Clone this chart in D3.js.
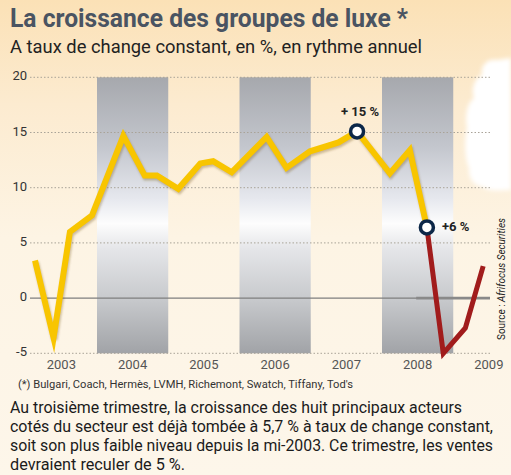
<!doctype html>
<html lang='fr'>
<head>
    <meta charset='utf-8'>
    <title>La croissance des groupes de luxe</title>
    <script src='https://cdn.jsdelivr.net/npm/d3@7'></script>
    <style>
        body { margin: 0; background: #fdf5e8; }
        svg { display: block; font-family: Roboto, 'Open Sans', sans-serif; }
        .grid { stroke: #a9a398; stroke-width: 1; stroke-dasharray: 1.5,2; }
        .ytick { font-size: 13px; fill: #333; text-anchor: end; }
        .year { font-size: 13px; fill: #555; text-anchor: middle; }
        .callout { font-size: 13px; font-weight: bold; fill: #222; }
        .para { font-size: 16px; fill: #1b1b1b; }
    </style>
</head>
<body>
<div id='chart'></div>
<script>
    // values (fractional years, % growth)
    const dates = [2003.13, 2003.39, 2003.62, 2003.93, 2004.37, 2004.67, 2004.84, 2005.14,
        2005.45, 2005.63, 2005.89, 2006.38, 2006.66, 2006.99, 2007.39, 2007.65,
        2008.11, 2008.39, 2008.63, 2008.86, 2009.17, 2009.42];
    const growth = [3.4, -3.6, 6.0, 7.5, 14.7, 11.1, 11.1, 9.9,
        12.2, 12.4, 11.4, 14.6, 11.8, 13.3, 14.1, 15.1,
        11.3, 13.4, 6.4, -5.0, -2.7, 2.9];
    const splitIndex = 18;           // from here on the line turns red
    const markerIdx = [15, 18];
    const markerLabels = ['+ 15 %', '+6 %'];
    const years = [2003, 2004, 2005, 2006, 2007, 2008, 2009];
    const shadedYears = [2004, 2006, 2008];
    const yTicks = [-5, 0, 5, 10, 15, 20];

    const title = 'La croissance des groupes de luxe *';
    const subtitle = 'A taux de change constant, en %, en rythme annuel';
    const footnote = "(*) Bulgari, Coach, Hermès, LVMH, Richemont, Swatch, Tiffany, Tod's";
    const paragraph = [
        'Au troisième trimestre, la croissance des huit principaux acteurs',
        'cotés du secteur est déjà tombée à 5,7 % à taux de change constant,',
        'soit son plus faible niveau depuis la mi-2003. Ce trimestre, les ventes',
        'devraient reculer de 5 %.'
    ];

    const W = 511, H = 475;
    const gridLeft = 30, gridRight = 490;

    const x = d3.scaleLinear().domain([2004, 2008]).range([97, 382]);
    const y = d3.scaleLinear().domain([-5, 20]).range([353.3, 77.3]);

    const svg = d3.select('#chart').append('svg')
        .attr('width', W)
        .attr('height', H);

    const defs = svg.append('defs');

    const bg = defs.append('linearGradient').attr('id', 'bg')
        .attr('x1', 0).attr('y1', 0).attr('x2', 0).attr('y2', 1);
    bg.append('stop').attr('offset', 0).attr('stop-color', '#fbe1b6');
    bg.append('stop').attr('offset', 0.22).attr('stop-color', '#fcebd0');
    bg.append('stop').attr('offset', 0.5).attr('stop-color', '#fdf4e4');
    bg.append('stop').attr('offset', 1).attr('stop-color', '#fdf6ea');

    const band = defs.append('linearGradient').attr('id', 'band')
        .attr('gradientUnits', 'userSpaceOnUse')
        .attr('x1', 0).attr('y1', y(20)).attr('x2', 0).attr('y2', y(-5));
    [[0, '#a6a8ad'], [0.25, '#c3c6cd'], [0.44, '#e6e8ee'], [0.53, '#fdfdfd'],
        [0.62, '#e5e6e9'], [0.8, '#c8cacd'], [1, '#a1a3a7']].forEach(s =>
        band.append('stop').attr('offset', s[0]).attr('stop-color', s[1]));

    defs.append('filter').attr('id', 'soft')
        .append('feGaussianBlur').attr('stdDeviation', 1.3);
    defs.append('filter').attr('id', 'cloudblur')
        .append('feGaussianBlur').attr('stdDeviation', 2);

    svg.append('rect').attr('width', W).attr('height', H).attr('fill', 'url(#bg)');

    // white cloud in the top right corner (decoration)
    svg.append('path')
        .attr('d', 'M511,58 L497,60 C487,58 480,66 482,75 C474,78 471,90 474,98 C466,104 465,118 467,128 ' +
            'C464,140 465,160 469,168 C468,178 474,186 483,187 C490,192 500,190 511,190 Z')
        .attr('fill', '#fff')
        .attr('filter', 'url(#cloudblur)');

    // shaded years
    svg.selectAll('.band')
        .data(shadedYears)
        .enter()
        .append('rect')
        .attr('x', d => x(d))
        .attr('y', y(20))
        .attr('width', d => x(d + 1) - x(d))
        .attr('height', y(-5) - y(20))
        .attr('fill', 'url(#band)');

    svg.selectAll('.grid')
        .data(yTicks.filter(d => d !== 0))
        .enter()
        .append('line')
        .classed('grid', true)
        .attr('x1', gridLeft).attr('x2', gridRight)
        .attr('y1', d => y(d)).attr('y2', d => y(d));

    svg.append('line')
        .attr('x1', gridLeft).attr('x2', gridRight)
        .attr('y1', y(0)).attr('y2', y(0))
        .attr('stroke', '#7e7e7e').attr('stroke-width', 1.2);
    svg.append('line')
        .attr('x1', x(2008.48)).attr('x2', gridRight)
        .attr('y1', y(0)).attr('y2', y(0))
        .attr('stroke', '#898989').attr('stroke-width', 2.6);

    svg.selectAll('.ytick')
        .data(yTicks)
        .enter()
        .append('text')
        .classed('ytick', true)
        .attr('x', 27)
        .attr('y', d => y(d) + 3)
        .text(d => d);

    svg.selectAll('.year')
        .data(years)
        .enter()
        .append('text')
        .classed('year', true)
        .attr('x', d => x(d + 0.5))
        .attr('y', 369)
        .text(d => d);

    // the series
    const pts = dates.map((d, i) => [x(d), y(growth[i])]);
    const line = d3.line();
    const yellow = pts.slice(0, splitIndex + 1);
    const red = pts.slice(splitIndex);

    svg.append('path')
        .attr('d', line(yellow))
        .attr('transform', 'translate(1,2)')
        .attr('fill', 'none')
        .attr('stroke', 'rgba(110,80,20,0.35)')
        .attr('stroke-width', 6)
        .attr('stroke-linejoin', 'miter')
        .attr('filter', 'url(#soft)');
    svg.append('path')
        .attr('d', line(yellow))
        .attr('fill', 'none')
        .attr('stroke', '#f8c500')
        .attr('stroke-width', 6)
        .attr('stroke-linejoin', 'miter')
        .attr('stroke-miterlimit', 10);
    svg.append('path')
        .attr('d', line(red))
        .attr('fill', 'none')
        .attr('stroke', '#a11c1c')
        .attr('stroke-width', 5)
        .attr('stroke-linejoin', 'miter')
        .attr('stroke-miterlimit', 10);

    svg.selectAll('.marker')
        .data(markerIdx)
        .enter()
        .append('circle')
        .attr('cx', d => pts[d][0])
        .attr('cy', d => pts[d][1])
        .attr('r', 6.5)
        .attr('fill', '#fff')
        .attr('stroke', '#0c2748')
        .attr('stroke-width', 3.5);

    svg.append('text').classed('callout', true)
        .attr('x', pts[markerIdx[0]][0] + 3)
        .attr('y', pts[markerIdx[0]][1] - 15)
        .attr('text-anchor', 'middle')
        .text(markerLabels[0]);
    svg.append('text').classed('callout', true)
        .attr('x', pts[markerIdx[1]][0] + 15)
        .attr('y', pts[markerIdx[1]][1] + 4)
        .text(markerLabels[1]);

    // titles and texts
    svg.append('text')
        .attr('x', 10).attr('y', 27)
        .attr('font-size', 25).attr('font-weight', 'bold')
        .attr('fill', '#4a5462')
        .attr('textLength', 398).attr('lengthAdjust', 'spacingAndGlyphs')
        .text(title);
    svg.append('text')
        .attr('x', 10).attr('y', 53)
        .attr('font-size', 19).attr('fill', '#222')
        .attr('textLength', 412).attr('lengthAdjust', 'spacingAndGlyphs')
        .text(subtitle);
    svg.append('text')
        .attr('x', 18).attr('y', 388)
        .attr('font-size', 10.5).attr('fill', '#333')
        .attr('textLength', 335).attr('lengthAdjust', 'spacingAndGlyphs')
        .text(footnote);

    const paraLengths = [452, 483, 483, 175];
    svg.selectAll('.para')
        .data(paragraph)
        .enter()
        .append('text')
        .classed('para', true)
        .attr('x', 10)
        .attr('y', (d, i) => 413 + i * 19)
        .attr('textLength', (d, i) => paraLengths[i])
        .attr('lengthAdjust', 'spacingAndGlyphs')
        .text(d => d);

    const src = svg.append('text')
        .attr('transform', 'translate(505,340) rotate(-90)')
        .attr('font-size', 10.5).attr('fill', '#222')
        .attr('textLength', 122).attr('lengthAdjust', 'spacingAndGlyphs');
    src.append('tspan').text('Source : ');
    src.append('tspan').attr('font-style', 'italic').text('Afrifocus Securities');
</script>
</body>
</html>
